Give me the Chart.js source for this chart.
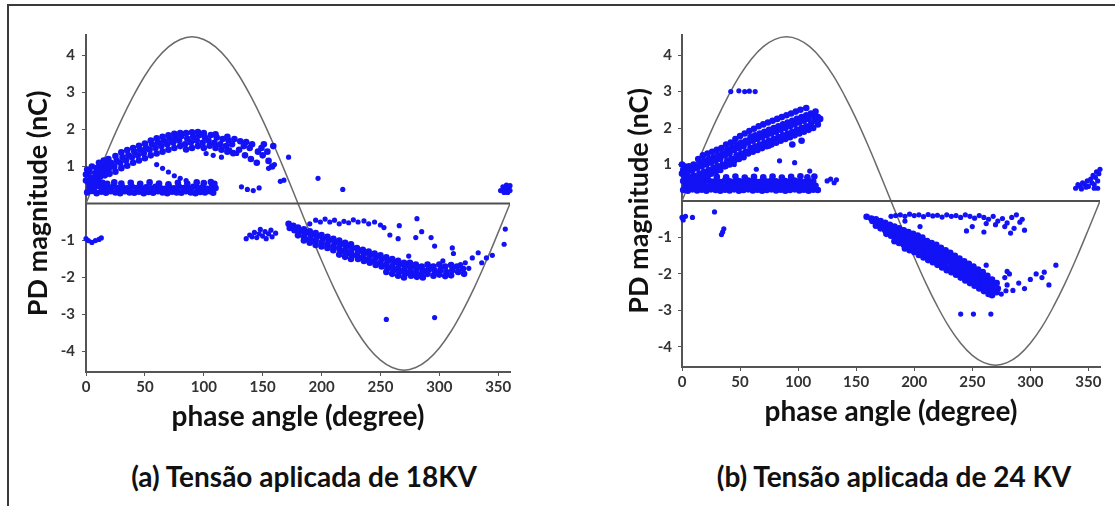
<!DOCTYPE html>
<html>
<head>
<meta charset="utf-8">
<script src="https://cdn.jsdelivr.net/npm/chart.js@4.4.1/dist/chart.umd.min.js"></script>
<style>
body { margin: 0; background: #fff; width: 1115px; height: 506px; overflow: hidden; position: relative; font-family: Lato, sans-serif; }
#moldura { position: absolute; left: 7px; top: 4px; right: 0; height: 520px; border-top: 2px solid #3a3a3a; border-left: 2px solid #3a3a3a; }
.caixa { position: absolute; top: 0; height: 440px; }
#caixaA { left: 0; width: 580px; }
#caixaB { left: 580px; width: 535px; }
.legenda { position: absolute; top: 459px; font-weight: 700; font-size: 28px; line-height: 34px; color: #111; white-space: nowrap; transform: translateX(-50%); }
</style>
</head>
<body>
<div id="moldura"></div>
<div class="caixa" id="caixaA"><canvas id="graficoA" width="580" height="440"></canvas></div>
<div class="caixa" id="caixaB"><canvas id="graficoB" width="535" height="440"></canvas></div>
<div class="legenda" style="left:304px">(a) Tensão aplicada de 18KV</div>
<div class="legenda" style="left:894px">(b) Tensão aplicada de 24 KV</div>

<script>
// eixos
const xTicks = [0, 50, 100, 150, 200, 250, 300, 350];
const yTicks = [-4, -3, -2, -1, 1, 2, 3, 4];

// onda de tensao de referencia (nC)
const senoFase = [0, 10, 20, 30, 40, 50, 60, 70, 80, 90, 100, 110, 120, 130, 140, 150, 160, 170, 180,
    190, 200, 210, 220, 230, 240, 250, 260, 270, 280, 290, 300, 310, 320, 330, 340, 350, 360];
const senoValor = [0, 0.78, 1.54, 2.25, 2.89, 3.45, 3.9, 4.23, 4.43, 4.5, 4.43, 4.23, 3.9, 3.45, 2.89, 2.25, 1.54, 0.78, 0,
    -0.78, -1.54, -2.25, -2.89, -3.45, -3.9, -4.23, -4.43, -4.5, -4.43, -4.23, -3.9, -3.45, -2.89, -2.25, -1.54, -0.78, 0];
const baseFase = [0, 360];
const baseValor = [0, 0];

// (a) 18 KV - descargas [fase, magnitude]
const aPosInferior = [
    [1,0.3],[5,0.34],[9,0.28],[13,0.32],[17,0.29],[21,0.33],[25,0.3],[29,0.28],[33,0.33],[37,0.3],[41,0.29],[45,0.32],[49,0.28],[53,0.31],
    [57,0.29],[61,0.33],[65,0.3],[69,0.28],[73,0.32],[77,0.3],[81,0.29],[85,0.33],[89,0.3],[93,0.28],[97,0.31],[101,0.3],[105,0.33],[108,0.29],
    [3,0.45],[7,0.42],[11,0.47],[15,0.43],[19,0.4],[23,0.46],[27,0.42],[31,0.44],[35,0.41],[39,0.45],[43,0.42],[47,0.39],[51,0.44],[55,0.41],
    [59,0.45],[63,0.42],[67,0.4],[71,0.44],[75,0.41],[79,0.45],[83,0.42],[87,0.4],[91,0.45],[95,0.42],[99,0.44],[103,0.4],[107,0.45],[110,0.42],
    [2,0.58],[6,0.55],[10,0.6],[14,0.56],[18,0.53],[24,0.57],[30,0.54],[38,0.56],[46,0.53],[54,0.57],[62,0.54],[70,0.52],[78,0.56],[86,0.53],
    [94,0.57],[100,0.55],[106,0.58],[109,0.53]
];
const aPosSuperior = [
    [0,0.62],[0,0.78],[1,0.92],[4,0.56],[4,0.7],[3,0.86],[5,1.0],[8,0.66],[8,0.82],[9,0.96],
    [12,0.72],[12,0.86],[13,1.0],[11,1.1],[16,0.76],[16,0.9],[17,1.05],[15,1.16],[20,0.8],[20,0.96],[21,1.1],[19,1.2],
    [25,0.86],[24,1.0],[26,1.15],[25,1.28],[30,0.95],[29,1.1],[31,1.25],[30,1.38],[35,1.02],[34,1.16],[36,1.3],[35,1.44],
    [40,1.1],[39,1.25],[41,1.4],[40,1.5],[45,1.16],[44,1.3],[46,1.45],[45,1.56],[50,1.22],[49,1.36],[51,1.5],[50,1.62],
    [55,1.3],[54,1.45],[56,1.6],[55,1.7],[60,1.35],[59,1.5],[61,1.65],[60,1.76],[65,1.4],[64,1.55],[66,1.7],[65,1.8],
    [70,1.45],[69,1.6],[71,1.75],[70,1.84],[75,1.5],[74,1.65],[76,1.78],[75,1.88],[80,1.55],[79,1.7],[81,1.82],[80,1.9],
    [85,1.46],[84,1.6],[86,1.75],[85,1.9],[90,1.5],[89,1.65],[91,1.8],[90,1.92],[95,1.55],[94,1.7],[96,1.84],[95,1.93],
    [100,1.5],[99,1.64],[101,1.78],[100,1.9],[105,1.56],[104,1.7],[106,1.85],[110,1.5],[109,1.64],[111,1.78],[110,1.87],
    [115,1.45],[114,1.6],[116,1.74],[120,1.4],[119,1.55],[121,1.7],[120,1.8],[125,1.36],[124,1.6],[126,1.74],
    [130,1.45],[131,1.68],[135,1.3],[134,1.55],[136,1.66],[140,1.2],[139,1.5],[141,1.6],[145,1.1],[146,1.4],
    [150,1.3],[149,1.5],[151,1.6],[155,1.15],[154,1.4],[158,1.0],[159,1.55]
];
const aPosEsparso = [
    [60,1.05],[65,0.95],[70,0.85],[75,0.75],[80,0.68],[85,0.62],[30,1.0],[102,1.35],[108,1.3],[115,1.25],[122,1.45],[128,1.35],
    [132,0.45],[137,0.38],[142,0.35],[147,0.42],[165,0.6],[168,0.63],[172,1.25],[197,0.68],[218,0.38],[155,0.95],[160,1.05]
];
const aPosFinal = [[352,0.35],[354,0.45],[356,0.38],[357,0.5],[358,0.3],[359,0.42],[360,0.35],[355,0.3],[360,0.48]];
const aNegInicio = [[0,-0.95],[2,-1.0],[5,-1.05],[8,-1.0],[11,-0.97],[13,-0.93]];
const aNegMeio = [
    [136,-0.95],[139,-0.85],[141,-0.9],[143,-0.78],[145,-0.92],[147,-0.82],[148,-0.7],[150,-0.88],[152,-0.76],[153,-0.95],
    [155,-0.82],[157,-0.72],[158,-0.9],[161,-0.8]
];
const aNegFaixa = [
    [172,-0.55],[173,-0.66],[176,-0.6],[177,-0.72],[180,-0.65],[181,-0.76],[180,-0.86],
    [185,-0.7],[186,-0.8],[185,-0.9],[185,-1.0],[190,-0.75],[191,-0.86],[190,-0.96],[190,-1.06],
    [195,-0.8],[196,-0.9],[195,-1.0],[195,-1.12],[200,-0.85],[201,-0.96],[200,-1.06],[200,-1.16],
    [205,-0.9],[206,-1.0],[205,-1.1],[205,-1.2],[210,-0.95],[211,-1.06],[210,-1.16],[210,-1.26],
    [215,-1.0],[216,-1.1],[215,-1.2],[216,-1.3],[215,-1.38],[220,-1.06],[221,-1.16],[220,-1.26],[221,-1.36],[220,-1.44],
    [225,-1.1],[226,-1.2],[225,-1.3],[226,-1.4],[225,-1.5],[230,-1.2],[231,-1.3],[230,-1.4],[231,-1.5],
    [235,-1.25],[236,-1.35],[235,-1.45],[236,-1.55],[240,-1.3],[241,-1.4],[240,-1.5],[241,-1.6],
    [245,-1.35],[246,-1.45],[245,-1.55],[246,-1.66],[250,-1.4],[251,-1.5],[250,-1.6],[251,-1.7],
    [255,-1.45],[256,-1.55],[255,-1.65],[256,-1.75],[255,-1.85],[260,-1.5],[261,-1.6],[260,-1.7],[261,-1.8],[260,-1.9],
    [265,-1.55],[266,-1.65],[265,-1.75],[266,-1.85],[265,-1.95],[270,-1.6],[271,-1.7],[270,-1.8],[271,-1.9],[270,-2.0],
    [275,-1.6],[276,-1.72],[275,-1.84],[276,-1.95],[280,-1.65],[281,-1.75],[280,-1.86],[281,-1.98],
    [285,-1.7],[286,-1.8],[285,-1.9],[286,-2.0],[290,-1.65],[291,-1.78],[290,-1.9],
    [295,-1.7],[296,-1.82],[295,-1.95],[300,-1.65],[301,-1.8],[300,-1.92],[305,-1.7],[306,-1.85],[305,-1.96],
    [310,-1.66],[311,-1.8],[310,-1.94],[315,-1.7],[316,-1.85],[320,-1.76],[321,-1.9]
];
const aNegEsparso = [
    [190,-0.55],[195,-0.45],[199,-0.5],[203,-0.42],[207,-0.5],[211,-0.45],[215,-0.55],[219,-0.48],[223,-0.52],[227,-0.44],
    [231,-0.5],[236,-0.47],[240,-0.55],[245,-0.5],[250,-0.58],[253,-0.65],[258,-0.85],
    [266,-0.6],[281,-0.41],[265,-0.95],[280,-0.92],[285,-0.76],[293,-0.92],[296,-1.15],[311,-1.2],[312,-1.35],[328,-1.47],
    [333,-1.33],[340,-1.47],[322,-1.6],[336,-1.6],[345,-1.4],[356,-0.69],[355,-1.1],[274,-1.42],[294,-1.7],[303,-1.55],
    [318,-1.65],[325,-1.75],[255,-3.13],[296,-3.08]
];

// (b) 24 KV - descargas [fase, magnitude]
const bPosInferior = [
    [1,0.3],[5,0.28],[9,0.32],[13,0.29],[17,0.31],[21,0.28],[25,0.32],[29,0.3],[33,0.28],[37,0.31],[41,0.29],[45,0.32],[49,0.28],[53,0.3],
    [57,0.32],[61,0.29],[65,0.31],[69,0.28],[73,0.3],[77,0.32],[81,0.29],[85,0.31],[89,0.28],[93,0.3],[97,0.32],[101,0.29],[105,0.31],
    [109,0.28],[113,0.31],[117,0.3],
    [3,0.42],[7,0.4],[11,0.44],[15,0.41],[19,0.43],[23,0.4],[27,0.44],[31,0.42],[35,0.4],[39,0.43],[43,0.41],[47,0.44],[51,0.4],[55,0.42],
    [59,0.44],[63,0.41],[67,0.43],[71,0.4],[75,0.42],[79,0.44],[83,0.41],[87,0.43],[91,0.4],[95,0.42],[99,0.44],[103,0.41],[107,0.43],
    [111,0.4],[115,0.42],
    [1,0.55],[5,0.53],[9,0.56],[13,0.54],[17,0.52],[21,0.56],[25,0.53],[29,0.55],[33,0.52],[37,0.56],[41,0.54],[45,0.52],[49,0.55],[53,0.53],
    [57,0.56],[61,0.54],[65,0.52],[69,0.55],[73,0.53],[77,0.56],[81,0.54],[85,0.52],[89,0.55],[93,0.53],[97,0.56],[101,0.54],[105,0.52],
    [109,0.55],[113,0.53],
    [3,0.66],[9,0.65],[15,0.67],[22,0.64],[30,0.66],[38,0.65],[46,0.67],[54,0.64],[62,0.66],[70,0.65],[78,0.67],[86,0.64],[94,0.66],
    [102,0.68],[108,0.65],[114,0.67],
    [0,0.75],[1,0.85],[2,0.95],[0,1.0],[3,0.78]
];
const bPosSuperior = [
    [2,0.7],[3,0.85],[5,0.5],[6,0.65],[5,0.8],[6,0.95],[9,0.55],[10,0.7],[9,0.85],[10,1.0],
    [13,0.6],[15,0.75],[13,0.9],[15,1.05],[14,1.15],[17,0.65],[19,0.8],[17,0.95],[19,1.1],[18,1.25],
    [21,0.7],[23,0.85],[21,1.0],[23,1.15],[22,1.3],[25,0.75],[27,0.9],[25,1.05],[27,1.2],[26,1.35],
    [29,0.8],[31,0.95],[29,1.1],[31,1.25],[30,1.4],[33,0.85],[35,1.0],[33,1.15],[35,1.3],[34,1.45],
    [37,0.95],[39,1.1],[37,1.25],[39,1.4],[38,1.55],[41,1.0],[43,1.15],[41,1.3],[43,1.45],[42,1.6],
    [45,1.1],[47,1.25],[45,1.4],[47,1.55],[46,1.7],[49,1.15],[51,1.3],[49,1.45],[51,1.6],[50,1.78],
    [53,1.2],[55,1.35],[53,1.5],[55,1.65],[54,1.85],[57,1.3],[59,1.45],[57,1.6],[59,1.75],[58,1.92],
    [61,1.35],[63,1.5],[61,1.65],[63,1.8],[62,1.98],[65,1.4],[67,1.55],[65,1.7],[67,1.85],[66,2.05],
    [69,1.45],[71,1.6],[69,1.75],[71,1.9],[70,2.1],[73,1.5],[75,1.65],[73,1.8],[75,1.95],[74,2.15],
    [77,1.55],[79,1.7],[77,1.85],[79,2.0],[78,2.2],[81,1.6],[83,1.75],[81,1.9],[83,2.05],[82,2.25],
    [85,1.65],[87,1.8],[85,1.95],[87,2.1],[86,2.3],[89,1.7],[91,1.85],[89,2.0],[91,2.15],[90,2.35],
    [93,1.75],[95,1.9],[93,2.05],[95,2.2],[94,2.4],[97,1.8],[99,1.95],[97,2.1],[99,2.25],[98,2.45],
    [101,1.85],[103,2.0],[101,2.15],[103,2.3],[102,2.5],[105,1.9],[107,2.05],[105,2.2],[107,2.35],
    [109,1.95],[111,2.1],[109,2.25],[111,2.4],[113,2.0],[114,2.2],[113,2.35],[117,2.1],[117,2.3],
    [107,2.55],[115,2.45],[119,2.25],[103,1.65],[95,1.55]
];
const bPosEsparso = [
    [42,3.0],[49,3.02],[54,3.0],[58,3.01],[63,3.0],[38,0.95],[42,1.18],[45,1.0],[64,0.87],[75,1.5],[91,1.8],[97,1.05],
    [30,0.98],[125,0.55],[128,0.6],[131,0.5],[133,0.58],[110,0.82],[84,1.1]
];
const bPosFinal = [
    [339,0.35],[341,0.45],[343,0.4],[345,0.5],[347,0.45],[349,0.55],[350,0.4],[352,0.6],[353,0.5],[354,0.7],
    [355,0.45],[356,0.65],[357,0.8],[358,0.55],[359,0.75],[360,0.87],[358,0.35],[355,0.35],[348,0.38],[344,0.33]
];
const bNegInicio = [[0,-0.45],[1,-0.52],[3,-0.42],[9,-0.45],[28,-0.3],[35,-0.85],[36,-0.76],[34,-0.92]];
const bNegFaixa = [
    [159,-0.43],[163,-0.48],[164,-0.55],[167,-0.5],[168,-0.6],[167,-0.68],[171,-0.55],[172,-0.65],[171,-0.75],
    [175,-0.6],[176,-0.7],[175,-0.8],[176,-0.9],[179,-0.65],[180,-0.75],[179,-0.85],[180,-0.95],
    [183,-0.7],[184,-0.8],[183,-0.9],[184,-1.0],[183,-1.1],[187,-0.75],[188,-0.85],[187,-0.95],[188,-1.05],[187,-1.15],
    [191,-0.8],[192,-0.9],[191,-1.0],[192,-1.1],[191,-1.2],[192,-1.3],[195,-0.85],[196,-0.95],[195,-1.05],[196,-1.15],[195,-1.25],[196,-1.35],
    [199,-0.9],[200,-1.0],[199,-1.1],[200,-1.2],[199,-1.3],[200,-1.4],[203,-0.95],[204,-1.05],[203,-1.15],[204,-1.25],[203,-1.35],[204,-1.48],
    [207,-1.0],[208,-1.1],[207,-1.2],[208,-1.3],[207,-1.42],[208,-1.55],[211,-1.1],[212,-1.2],[211,-1.3],[212,-1.4],[211,-1.5],[212,-1.62],
    [215,-1.15],[216,-1.25],[215,-1.35],[216,-1.45],[215,-1.55],[216,-1.68],[219,-1.2],[220,-1.3],[219,-1.4],[220,-1.5],[219,-1.62],[220,-1.75],
    [223,-1.28],[224,-1.38],[223,-1.48],[224,-1.58],[223,-1.7],[224,-1.82],[227,-1.35],[228,-1.45],[227,-1.55],[228,-1.65],[227,-1.78],[228,-1.9],
    [231,-1.42],[232,-1.52],[231,-1.62],[232,-1.72],[231,-1.85],[232,-1.95],[235,-1.5],[236,-1.6],[235,-1.7],[236,-1.8],[235,-1.92],[236,-2.02],
    [239,-1.58],[240,-1.68],[239,-1.78],[240,-1.9],[239,-2.0],[240,-2.1],[243,-1.65],[244,-1.75],[243,-1.85],[244,-1.97],[243,-2.08],[244,-2.18],
    [247,-1.72],[248,-1.82],[247,-1.93],[248,-2.05],[247,-2.15],[248,-2.25],[251,-1.8],[252,-1.9],[251,-2.0],[252,-2.12],[251,-2.22],[252,-2.32],
    [255,-1.88],[256,-1.98],[255,-2.08],[256,-2.2],[255,-2.3],[256,-2.4],[259,-1.95],[260,-2.05],[259,-2.15],[260,-2.27],[259,-2.38],[260,-2.47],
    [263,-2.05],[264,-2.15],[263,-2.25],[264,-2.35],[263,-2.45],[264,-2.55],[267,-2.15],[268,-2.25],[267,-2.35],[268,-2.45],[267,-2.58],
    [271,-2.25],[272,-2.4],[271,-2.5]
];
const bNegEsparso = [
    [180,-0.42],[184,-0.4],[188,-0.38],[192,-0.42],[196,-0.36],[200,-0.4],[204,-0.38],[208,-0.43],[212,-0.37],[216,-0.41],
    [220,-0.39],[224,-0.44],[228,-0.38],[232,-0.42],[236,-0.4],[240,-0.45],[244,-0.38],[248,-0.42],[252,-0.47],[256,-0.4],
    [260,-0.45],[264,-0.5],[268,-0.42],[272,-0.55],[276,-0.48],[280,-0.6],[284,-0.45],[288,-0.38],[291,-0.58],[293,-0.5],
    [278,-0.7],[286,-0.75],[270,-0.65],[262,-0.62],[250,-0.7],[205,-0.7],[192,-0.55],[260,-0.85],[245,-0.82],[283,-0.88],[295,-0.8],
    [322,-1.76],[305,-2.0],[310,-2.1],[316,-2.3],[312,-1.95],[300,-2.15],[295,-2.4],[290,-2.25],[285,-2.45],[280,-2.3],
    [275,-2.55],[278,-2.1],[282,-2.0],[228,-1.39],[262,-1.76],[280,-1.93],[279,-2.46],[240,-3.1],[251,-3.1],[266,-3.1]
];

function pontos(lista) {
    return lista.map(function (p) { return { x: p[0], y: p[1] }; });
}

function curva(xs, ys) {
    return xs.map(function (x, i) { return { x: x, y: ys[i] }; });
}

function nuvem(lista, raio) {
    return {
        data: pontos(lista),
        backgroundColor: 'rgb(18,18,245)',
        borderWidth: 0,
        pointRadius: raio,
        clip: false
    };
}

function montarGrafico(id, densas, esparsas, cfg) {
    const fonte = 'Lato, "Liberation Sans", sans-serif';
    const ctx = document.getElementById(id).getContext('2d');
    return new Chart(ctx, {
        type: 'scatter',
        data: {
            datasets: [
                nuvem(esparsas, 2.6),
                nuvem(densas, 3.3),
                {
                    data: curva(baseFase, baseValor),
                    showLine: true,
                    borderColor: '#505050',
                    borderWidth: 2,
                    pointRadius: 0
                },
                {
                    data: curva(senoFase, senoValor),
                    showLine: true,
                    borderColor: '#6a6a6a',
                    borderWidth: 1.5,
                    tension: 0.4,
                    pointRadius: 0
                }
            ]
        },
        options: {
            responsive: false,
            animation: false,
            layout: { padding: { left: 0, right: cfg.dir, top: cfg.topo, bottom: cfg.base } },
            plugins: { legend: { display: false }, tooltip: { enabled: false } },
            scales: {
                x: {
                    type: 'linear',
                    min: 0,
                    max: 360,
                    afterBuildTicks: function (eixo) { eixo.ticks = xTicks.map(function (v) { return { value: v }; }); },
                    afterFit: function (eixo) { eixo.height = 64; },
                    grid: { drawOnChartArea: false, tickLength: 4, color: '#555' },
                    border: { color: '#555', width: 2 },
                    ticks: { color: '#333', font: { family: fonte, weight: 'bold', size: 15 }, padding: 2, maxRotation: 0, autoSkip: false },
                    title: { display: true, text: 'phase angle (degree)', color: '#111', font: { family: fonte, weight: 'bold', size: 28 }, padding: { top: 0, bottom: 2 } }
                },
                y: {
                    type: 'linear',
                    min: -4.55,
                    max: 4.55,
                    afterBuildTicks: function (eixo) { eixo.ticks = yTicks.map(function (v) { return { value: v }; }); },
                    afterFit: function (eixo) { eixo.width = cfg.largY; },
                    grid: { drawOnChartArea: false, tickLength: 4, color: '#555' },
                    border: { color: '#555', width: 2 },
                    ticks: { color: '#333', font: { family: fonte, weight: 'bold', size: 15 }, padding: cfg.padTick },
                    title: { display: true, text: 'PD magnitude (nC)', color: '#111', font: { family: fonte, weight: 'bold', size: 27 }, padding: { top: cfg.padTitulo, bottom: 0 } }
                }
            }
        }
    });
}

const densasA = [].concat(aPosInferior, aPosSuperior, aNegFaixa);
const esparsasA = [].concat(aPosEsparso, aPosFinal, aNegInicio, aNegMeio, aNegEsparso);
const densasB = [].concat(bPosInferior, bPosSuperior, bNegFaixa);
const esparsasB = [].concat(bPosEsparso, bPosFinal, bNegInicio, bNegEsparso);

montarGrafico('graficoA', densasA, esparsasA, { dir: 70, topo: 35, base: 4, largY: 86, padTick: 7, padTitulo: 21.8 });
montarGrafico('graficoB', densasB, esparsasB, { dir: 15, topo: 35, base: 9, largY: 102, padTick: 6, padTitulo: 42.8 });
</script>
</body>
</html>
